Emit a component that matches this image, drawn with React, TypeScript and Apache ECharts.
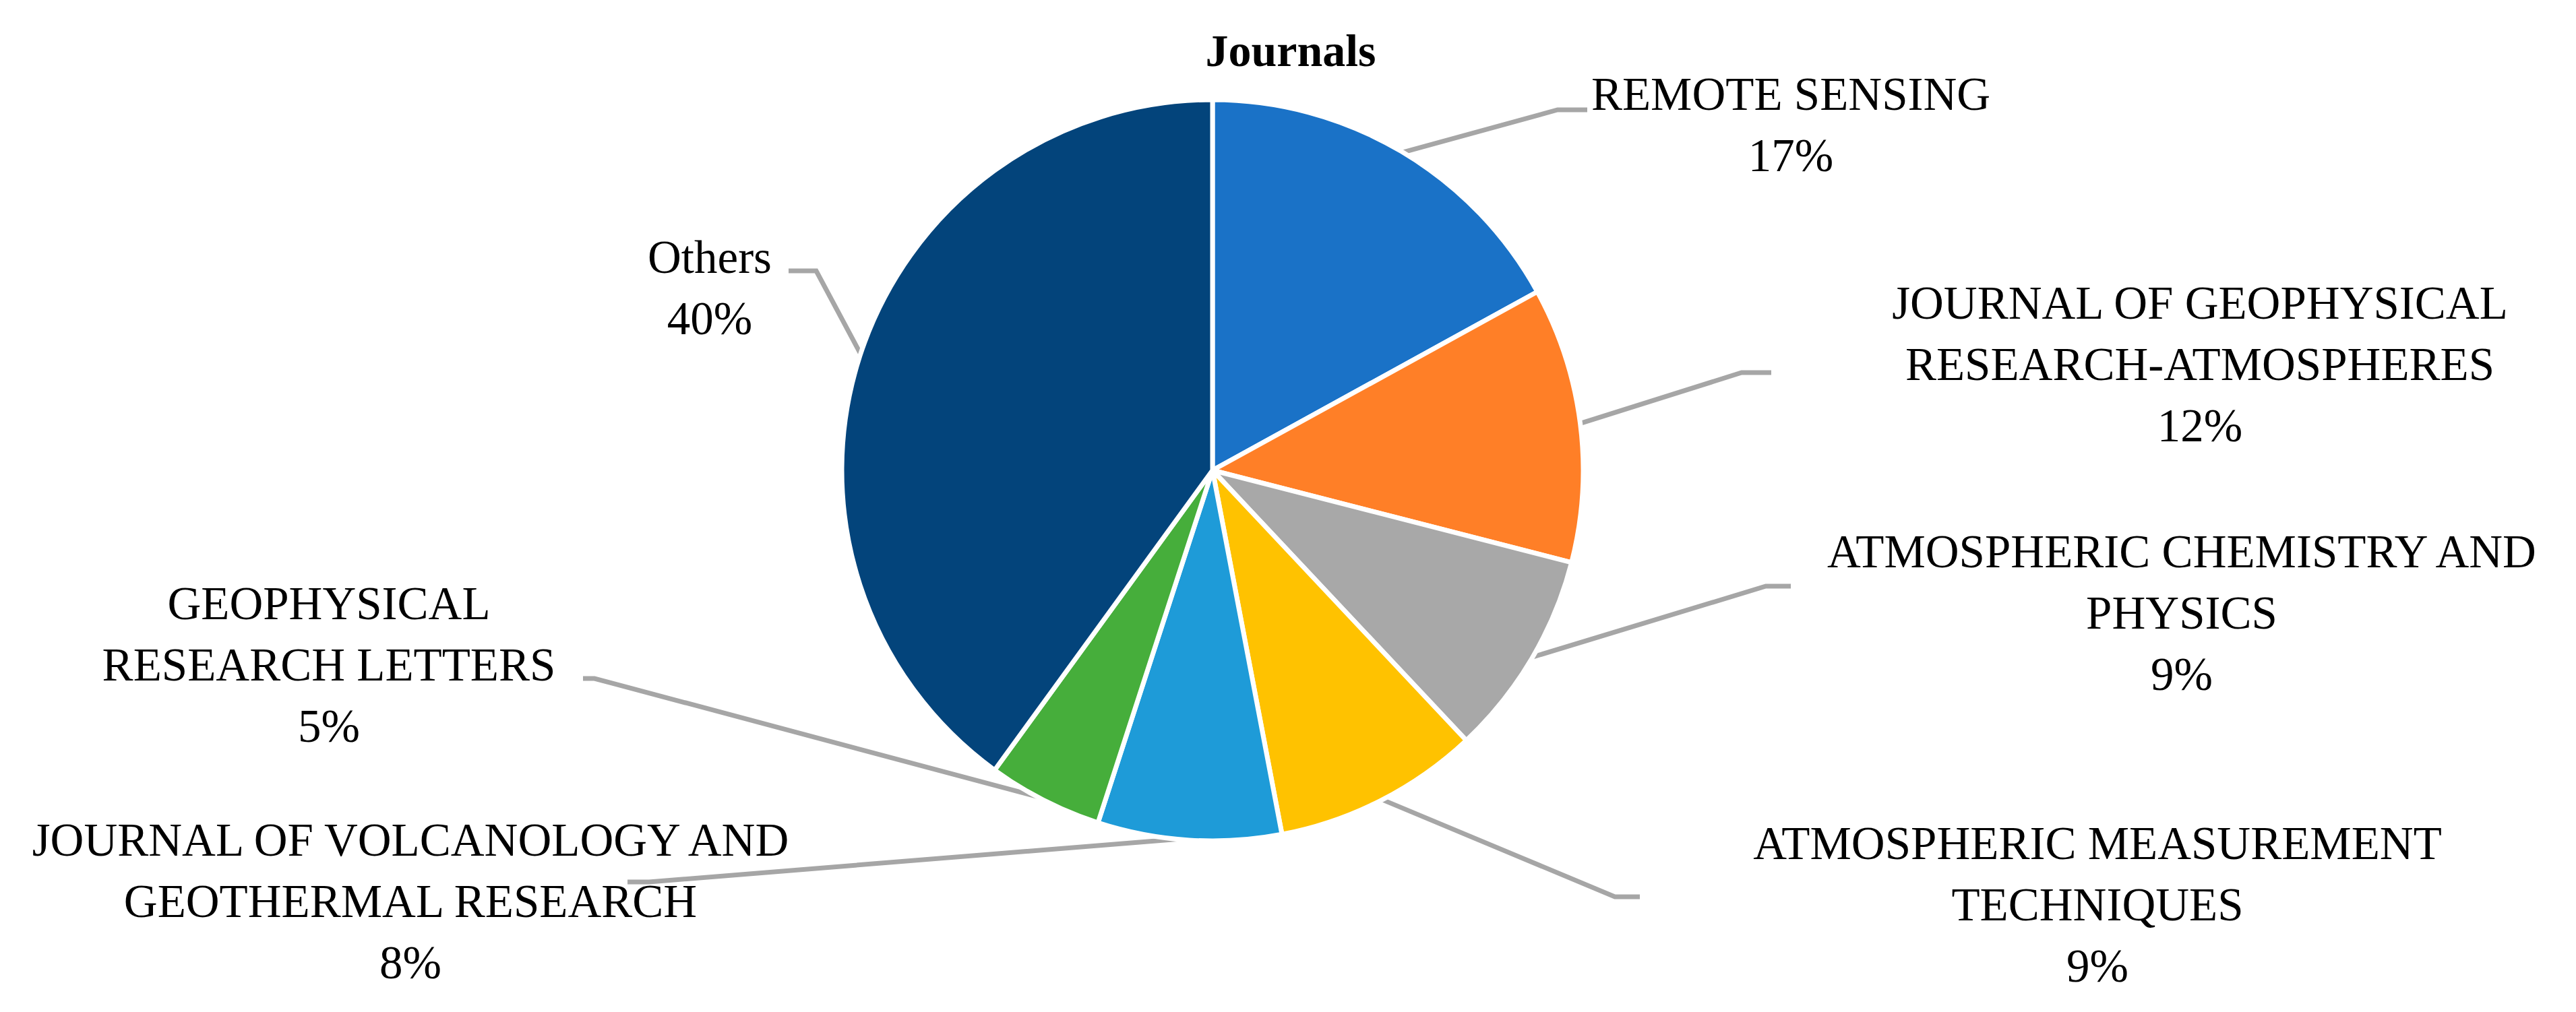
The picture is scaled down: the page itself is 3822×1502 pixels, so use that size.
import React, { useEffect, useRef } from "react";
import * as echarts from "echarts";

const categories = [
  "REMOTE SENSING",
  "JOURNAL OF GEOPHYSICAL\nRESEARCH-ATMOSPHERES",
  "ATMOSPHERIC CHEMISTRY AND\nPHYSICS",
  "ATMOSPHERIC MEASUREMENT\nTECHNIQUES",
  "JOURNAL OF VOLCANOLOGY AND\nGEOTHERMAL RESEARCH",
  "GEOPHYSICAL\nRESEARCH LETTERS",
  "Others",
];
const shares = [17, 12, 9, 9, 8, 5, 40];
const colors = ["#1A72C7", "#FF7F27", "#A8A8A8", "#FFC200", "#1E9BD8", "#46AE3B", "#03447B"];
const titleText = "Journals";

// label placement (layout only): label centre, elbow point, end point
const labelCenters = [
  [2657, 185],
  [3264, 541],
  [3237, 910],
  [3112, 1343],
  [609, 1338],
  [488, 987],
  [1053, 427],
];
const elbows = [
  [2311, 163],
  [2584, 553],
  [2620, 870],
  [2396, 1331],
  [963, 1309],
  [882, 1007],
  [1211, 402],
];
const lineEnds = [
  [2355, 163],
  [2628, 553],
  [2657, 870],
  [2433, 1331],
  [931, 1309],
  [865, 1007],
  [1170, 402],
];

const W = 3822;
const H = 1502;
const CX = 1799;
const CY = 698;
const R = 550;

export default function App() {
  const ref = useRef<HTMLDivElement>(null);
  useEffect(() => {
    if (!ref.current) return;
    const chart = echarts.init(ref.current, null, { renderer: "svg", width: W, height: H });
    const total = shares.reduce((a, b) => a + b, 0);
    const startPts: number[][] = [];
    let acc = 0;
    shares.forEach((v) => {
      const mid = ((acc + v / 2) / total) * Math.PI * 2;
      acc += v;
      startPts.push([CX + (R - 3) * Math.sin(mid), CY - (R - 3) * Math.cos(mid)]);
    });
    chart.setOption({
      animation: false,
      backgroundColor: "#ffffff",
      title: {
        text: titleText,
        left: 1910,
        top: 36,
        textAlign: "center",
        textStyle: {
          fontFamily: "Liberation Serif",
          fontWeight: "bold",
          fontSize: 68,
          color: "#000000",
        },
      },
      series: [
        {
          type: "pie",
          center: [CX, CY],
          radius: [0, R],
          startAngle: 90,
          clockwise: true,
          avoidLabelOverlap: false,
          itemStyle: { borderColor: "#ffffff", borderWidth: 7 },
          label: {
            show: true,
            position: "outside",
            formatter: (p: any) => `${p.name}\n${p.value}%`,
            fontFamily: "Liberation Serif",
            fontSize: 69,
            lineHeight: 91,
            color: "#000000",
            align: "center",
          },
          labelLine: {
            show: true,
            length: 20,
            length2: 20,
            lineStyle: { color: "#A6A6A6", width: 7 },
          },
          labelLayout: (params: any) => {
            const i = params.dataIndex;
            return {
              x: labelCenters[i][0],
              y: labelCenters[i][1],
              align: "center",
              verticalAlign: "middle",
              labelLinePoints: [startPts[i], elbows[i], lineEnds[i]],
            };
          },
          data: categories.map((name, i) => ({
            name,
            value: shares[i],
            itemStyle: { color: colors[i] },
          })),
        },
      ],
    });
    return () => chart.dispose();
  }, []);
  return (
    <div
      ref={ref}
      style={{ position: "fixed", left: 0, top: 0, width: W, height: H, background: "#fff" }}
    />
  );
}
